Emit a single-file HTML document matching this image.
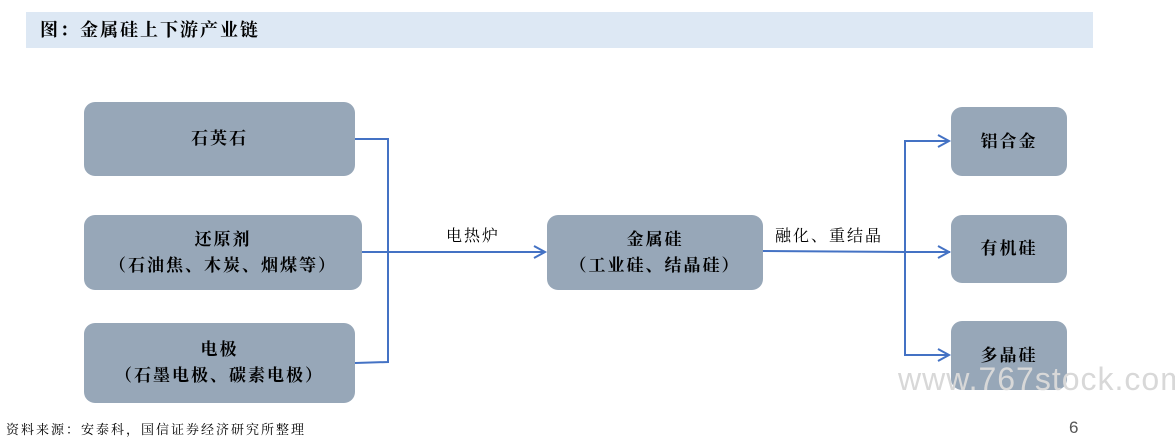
<!DOCTYPE html>
<html><head><meta charset="utf-8"><style>
body{margin:0;width:1175px;height:442px;background:#fff;position:relative;overflow:hidden;font-family:"Liberation Sans","Noto Sans CJK SC",sans-serif}
.t{position:absolute;left:26px;top:12px;width:1067px;height:36px;background:#dde8f4;font-weight:bold;font-size:18px;letter-spacing:2px;line-height:36px;padding-left:14px;box-sizing:border-box;font-family:"Liberation Serif","Noto Serif CJK SC",serif}
.b{position:absolute;background:#97a7b8;border-radius:11px;display:flex;align-items:center;justify-content:center;text-align:center;font-weight:bold;font-size:17px;letter-spacing:2px;line-height:26px;color:#000;font-family:"Liberation Serif","Noto Serif CJK SC",serif}
.l{position:absolute;font-size:16px;letter-spacing:2px;font-family:"Liberation Serif","Noto Serif CJK SC",serif}
</style></head><body>
<div class="t">图：金属硅上下游产业链</div>
<div class="b" style="left:84px;top:102px;width:271px;height:74px">石英石</div>
<div class="b" style="left:84px;top:215px;width:278px;height:75px">还原剂<br>（石油焦、木炭、烟煤等）</div>
<div class="b" style="left:84px;top:323px;width:271px;height:80px">电极<br>（石墨电极、碳素电极）</div>
<div class="b" style="left:547px;top:215px;width:216px;height:75px">金属硅<br>（工业硅、结晶硅）</div>
<div class="b" style="left:951px;top:107px;width:116px;height:69px">铝合金</div>
<div class="b" style="left:951px;top:215px;width:116px;height:68px">有机硅</div>
<div class="b" style="left:951px;top:321px;width:116px;height:69px">多晶硅</div>
<svg width="1175" height="442" style="position:absolute;left:0;top:0" fill="none" stroke="#4472c4" stroke-width="2">
<polyline points="355,139 388,139 388,362 355,363"/>
<line x1="362" y1="252" x2="545" y2="252"/>
<polyline points="534,246 545,252 534,258"/>
<line x1="763" y1="251" x2="905" y2="252"/>
<polyline points="948,141 905,141 905,355 948,355"/>
<line x1="905" y1="252" x2="950" y2="252"/>
<polyline points="938,135 949,141 938,147"/>
<polyline points="938,246 949,252 938,258"/>
<polyline points="938,349 949,355 938,361"/>
</svg>
<div class="l" style="left:446px;top:223px">电热炉</div>
<div class="l" style="left:775px;top:223px">融化、重结晶</div>
<div style="position:absolute;left:898px;top:361px;font-size:32px;color:#d8d8d8;letter-spacing:1px">www.767stock.com</div>
<div style="position:absolute;left:6px;top:419px;font-size:13px;letter-spacing:2px;font-family:'Liberation Serif','Noto Serif CJK SC',serif">资料来源：安泰科，国信证券经济研究所整理</div>
<div style="position:absolute;left:1069px;top:418px;font-size:17px;color:#555">6</div>
</body></html>
